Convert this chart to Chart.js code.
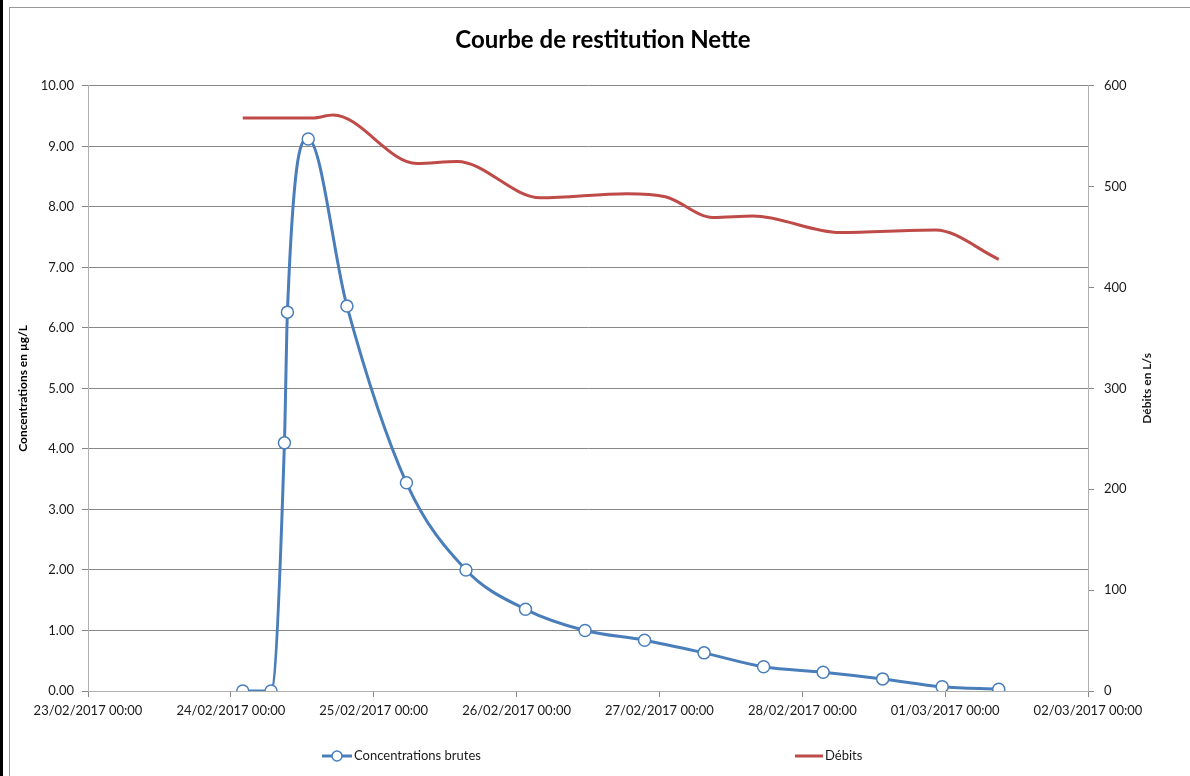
<!DOCTYPE html>
<html>
<head>
<meta charset="utf-8">
<script src="https://cdn.jsdelivr.net/npm/chart.js@4"></script>
<style>
  html, body { margin: 0; padding: 0; background: #fff; }
  #wrap { position: relative; width: 1190px; height: 776px; overflow: hidden; }
  #stripe { position: absolute; left: 0; top: 0; width: 3px; height: 776px; background: #000; }
  #frame { position: absolute; left: 9px; top: 7px; width: 1200px; height: 800px;
           border-left: 1px solid #9a9a9a; border-top: 1px solid #9a9a9a; }
  canvas { position: absolute; left: 0; top: 0; }
</style>
</head>
<body>
<div id="wrap">
  <div id="stripe"></div>
  <div id="frame"></div>
  <canvas id="chart" width="1190" height="776"></canvas>
</div>
<script>
// --- DATA ---
const concTimes = [
  '24/02/2017 02:00', '24/02/2017 06:45', '24/02/2017 09:00', '24/02/2017 09:30',
  '24/02/2017 13:00', '24/02/2017 19:30', '25/02/2017 05:30', '25/02/2017 15:30',
  '26/02/2017 01:30', '26/02/2017 11:30', '26/02/2017 21:30', '27/02/2017 07:30',
  '27/02/2017 17:30', '28/02/2017 03:30', '28/02/2017 13:30', '28/02/2017 23:30',
  '01/03/2017 09:00'
];
const concValues = [0.00, 0.00, 4.10, 6.26, 9.12, 6.36, 3.44, 2.00, 1.35, 1.00, 0.84, 0.63, 0.40, 0.31, 0.20, 0.07, 0.03];

const debitTimes = [
  '24/02/2017 02:00', '24/02/2017 13:45', '24/02/2017 17:10', '25/02/2017 07:15',
  '25/02/2017 14:00', '26/02/2017 04:00', '26/02/2017 18:30', '27/02/2017 01:00',
  '27/02/2017 09:00', '27/02/2017 15:45', '28/02/2017 06:20', '28/02/2017 22:20',
  '01/03/2017 09:00'
];
const debitValues = [568, 568, 571, 523, 525, 489, 493, 490, 469.5, 471, 454.5, 457, 428];

const xTickLabels = [
  '23/02/2017 00:00', '24/02/2017 00:00', '25/02/2017 00:00', '26/02/2017 00:00',
  '27/02/2017 00:00', '28/02/2017 00:00', '01/03/2017 00:00', '02/03/2017 00:00'
];

// days since the first tick label
const origin = toMs(xTickLabels[0]);
function toMs(s) {
  const [d, t] = s.split(' ');
  const [dd, mm, yy] = d.split('/').map(Number);
  const [hh, mi] = t.split(':').map(Number);
  return Date.UTC(yy, mm - 1, dd, hh, mi);
}
function toDays(s) { return (toMs(s) - origin) / 86400000; }

const concPoints = concTimes.map((t, i) => ({ x: toDays(t), y: concValues[i] }));
const debitPoints = debitTimes.map((t, i) => ({ x: toDays(t), y: debitValues[i] }));

const FONT = 'Lato, "Open Sans", sans-serif';
const BLUE = '#4a7ebb';
const RED = '#be4b48';
const GRID = '#878787';
const AXIS = '#b0b0b0';

// legend + right axis title, drawn by hand to match the spread-out layout
const extras = {
  id: 'extras',
  afterDraw(chart) {
    const ctx = chart.ctx;
    const area = chart.chartArea;
    ctx.save();
    ctx.fillStyle = '#1a1a1a';

    // right axis title, reading bottom to top
    ctx.font = 'bold 12px ' + FONT;
    ctx.textAlign = 'center';
    ctx.textBaseline = 'middle';
    ctx.translate(1147, (area.top + area.bottom) / 2);
    ctx.rotate(-Math.PI / 2);
    ctx.fillText('Débits en L/s', 0, 0);
    ctx.setTransform(1, 0, 0, 1, 0, 0);

    // legend
    const y = 756;
    ctx.font = '13px ' + FONT;
    ctx.textAlign = 'left';
    ctx.lineWidth = 3;
    ctx.strokeStyle = BLUE;
    ctx.beginPath(); ctx.moveTo(322, y); ctx.lineTo(352, y); ctx.stroke();
    ctx.beginPath(); ctx.arc(337, y, 5, 0, Math.PI * 2);
    ctx.fillStyle = '#fff'; ctx.fill();
    ctx.lineWidth = 1.5; ctx.stroke();
    ctx.fillStyle = '#1a1a1a';
    ctx.fillText('Concentrations brutes', 354, y);

    ctx.lineWidth = 3;
    ctx.strokeStyle = RED;
    ctx.beginPath(); ctx.moveTo(795, y); ctx.lineTo(823, y); ctx.stroke();
    ctx.fillText('Débits', 825, y);
    ctx.restore();
  }
};

new Chart(document.getElementById('chart'), {
  type: 'line',
  data: {
    datasets: [
      {
        label: 'Concentrations brutes',
        data: concPoints,
        yAxisID: 'y',
        borderColor: BLUE,
        borderWidth: 3,
        cubicInterpolationMode: 'monotone',
        pointRadius: 6,
        pointBorderWidth: 1.5,
        pointBackgroundColor: '#fff',
        pointBorderColor: BLUE
      },
      {
        label: 'Débits',
        data: debitPoints,
        yAxisID: 'y1',
        borderColor: RED,
        borderWidth: 3,
        cubicInterpolationMode: 'monotone',
        pointRadius: 0
      }
    ]
  },
  options: {
    responsive: false,
    animation: false,
    layout: { padding: { left: 16, right: 0, top: 0, bottom: 0 } },
    plugins: {
      legend: { display: false },
      tooltip: { enabled: false },
      title: {
        display: true,
        text: 'Courbe de restitution Nette',
        color: '#000',
        font: { family: FONT, size: 24, weight: 'bold' },
        padding: { top: 26, bottom: 31 }
      }
    },
    scales: {
      x: {
        type: 'linear',
        min: 0,
        max: 7,
        afterFit(scale) { scale.height = 85; },
        ticks: {
          stepSize: 1,
          autoSkip: false,
          maxRotation: 0,
          padding: 6,
          color: '#1a1a1a',
          font: { family: FONT, size: 13 },
          callback: (v, i) => xTickLabels[i]
        },
        grid: { drawOnChartArea: false, drawTicks: true, tickLength: 6, color: GRID },
        border: { color: AXIS }
      },
      y: {
        position: 'left',
        min: 0,
        max: 10,
        afterFit(scale) { scale.width = 72; },
        ticks: {
          stepSize: 1,
          padding: 8,
          color: '#1a1a1a',
          font: { family: FONT, size: 13 },
          callback: v => v.toFixed(2)
        },
        grid: { color: GRID, tickLength: 6 },
        border: { color: AXIS },
        title: {
          display: true,
          text: 'Concentrations en µg/L',
          color: '#000',
          font: { family: FONT, size: 12, weight: 'bold' },
          padding: { top: 0, bottom: 0 }
        }
      },
      y1: {
        position: 'right',
        min: 0,
        max: 600,
        afterFit(scale) { scale.width = 102; },
        ticks: {
          stepSize: 100,
          padding: 10,
          color: '#1a1a1a',
          font: { family: FONT, size: 13 }
        },
        grid: { drawOnChartArea: false, color: GRID, tickLength: 6 },
        border: { color: AXIS }
      }
    }
  },
  plugins: [extras]
});
</script>
</body>
</html>
